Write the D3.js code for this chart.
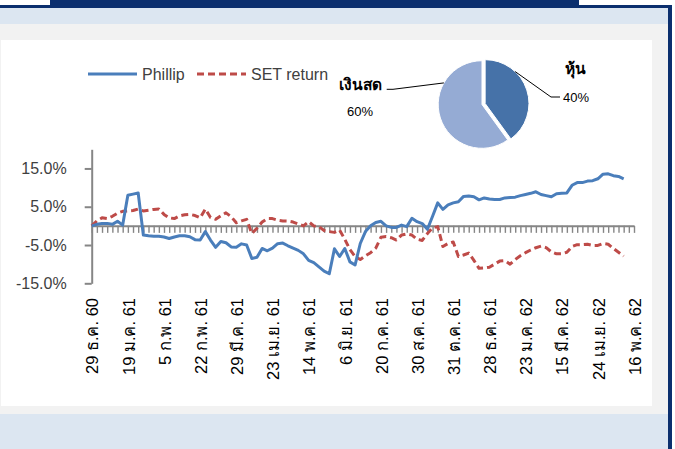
<!DOCTYPE html>
<html>
<head>
<meta charset="utf-8">
<script src="https://cdn.jsdelivr.net/npm/d3@7"></script>
<style>
  body { margin: 0; background: #fff; }
  svg { display: block; font-family: "Liberation Sans", Arial, sans-serif; }
</style>
</head>
<body>
<div id="canvas"></div>
<script>
(function () {
  // number of weekly points on the category axis (last two are empty)
  var nCategories = 106;
  var labelEvery = 7;
  var tickLabels = ['29 ธ.ค. 60', '19 ม.ค. 61', '5 ก.พ. 61', '22 ก.พ. 61', '29 มี.ค. 61',
    '23 เม.ย. 61', '14 พ.ค. 61', '6 มิ.ย. 61', '20 ก.ค. 61', '30 ส.ค. 61', '31 ต.ค. 61',
    '28 ธ.ค. 61', '23 ม.ค. 62', '15 มี.ค. 62', '24 เม.ย. 62', '16 พ.ค. 62'];

  var seriesNames = ['Phillip', 'SET return'];

  // cumulative return in %
  var phillip = [
    0, 0.4, 0.6, 0.65, 0.4, 1.2, 0.2, 8.0, 8.3, 8.6,
    -2.4, -2.6, -2.7, -2.7, -2.9, -3.3, -2.9, -2.6, -2.6, -2.85,
    -3.6, -3.7, -1.5, -3.7, -5.6, -4.1, -4.4, -5.5, -5.6, -4.7,
    -5.0, -8.5, -8.2, -5.9, -6.5, -5.8, -4.65, -4.5, -5.2, -5.8,
    -6.4, -7.3, -9.0, -9.6, -10.7, -11.8, -12.5, -6.0, -8.0, -5.9,
    -9.4, -10.2, -4.6, -1.5, 0.0, 0.9, 1.2, 0.0, -0.4, -0.4,
    0.2, -0.2, 2.0, 1.1, 0.6, -0.9, 2.5, 6.0, 4.3, 5.5,
    6.0, 6.3, 7.7, 7.8, 7.6, 6.8, 7.3, 7.0, 6.9, 6.9,
    7.3, 7.4, 7.5, 7.9, 8.2, 8.5, 8.9, 8.2, 7.9, 7.6,
    8.4, 8.5, 8.6, 10.6, 11.3, 11.3, 11.7, 11.8, 12.3, 13.5,
    13.6, 13.1, 12.9, 12.3
  ];
  var setReturn = [
    0, 1.3, 2.1, 1.9, 2.5, 3.3, 3.8, 3.9, 4.0, 4.4,
    3.9, 4.1, 4.3, 4.4, 3.0, 2.1, 1.9, 2.6, 2.9, 3.0,
    2.7, 2.1, 4.4, 2.2, 1.7, 2.6, 3.4, 2.4, 0.8, 1.3,
    1.7, -2.0, -0.6, 1.0, 1.9, 1.9, 1.5, 1.3, 1.25, 1.0,
    0.5, 0.0, 1.1, 0.0, -0.2, -1.2, -1.5, -1.7, -1.1, -3.5,
    -6.2, -8.0, -8.8, -7.8, -7.0, -5.8, -3.0, -2.8, -3.1, -3.7,
    -2.4, -2.1, -2.4, -3.5, -3.8, -2.0, -0.5, -0.2, -5.4, -4.6,
    -4.2, -8.0, -7.6, -7.1, -9.0, -11.1, -11.0, -10.8, -10.0, -9.2,
    -9.1, -10.0, -8.8, -7.8, -7.0, -6.3, -5.7, -5.3, -5.7, -6.8,
    -7.3, -7.3, -6.9, -5.4, -4.9, -4.9, -4.8, -5.1, -5.1, -4.6,
    -4.8, -5.9, -6.9, -7.9
  ];

  var yTicks = [15, 5, -5, -15];

  // portfolio split
  var pieNames = ['หุ้น', 'เงินสด'];
  var pieValues = [40, 60];

  var width = 675, height = 449;
  var navy = '#0b2f6e';
  var axisGrey = '#868686';
  var blue = '#4a7ebb', red = '#be4b48';
  var pieColors = ['#4672a8', '#95abd4'];

  var svg = d3.select('#canvas').append('svg')
        .attr('width', width)
        .attr('height', height);

  // frame: light blue band, grey sheet, white chart panel, navy borders
  svg.append('rect').attr('x', 0).attr('y', 8).attr('width', 668).attr('height', height - 8)
    .attr('fill', '#dce6f1');
  svg.append('rect').attr('x', 0).attr('y', 24).attr('width', 668).attr('height', 390)
    .attr('fill', '#f2f2f2');
  svg.append('rect').attr('x', 1).attr('y', 40).attr('width', 651).attr('height', 366)
    .attr('fill', '#fff');
  svg.append('rect').attr('x', 50).attr('y', 0).attr('width', 529).attr('height', 6)
    .attr('fill', navy);
  svg.append('rect').attr('x', 0).attr('y', 5).attr('width', 672).attr('height', 3)
    .attr('fill', navy);
  svg.append('rect').attr('x', 668).attr('y', 5).attr('width', 4).attr('height', height - 5)
    .attr('fill', navy);

  var x = d3.scalePoint()
        .domain(d3.range(nCategories))
        .range([91.7, 634]);

  var y = d3.scaleLinear()
        .domain([-15, 20])
        .range([283.3, 149.3]);

  // y axis
  var yAxis = svg.append('g')
        .attr('transform', 'translate(' + x(0) + ',0)')
        .call(d3.axisLeft(y)
          .tickValues(yTicks)
          .tickSize(7)
          .tickSizeOuter(0)
          .tickPadding(18)
          .tickFormat(function (d) { return d.toFixed(1) + '%'; }));
  yAxis.selectAll('path, line').attr('stroke', axisGrey).attr('stroke-width', 2);
  yAxis.selectAll('text')
    .attr('fill', '#404040')
    .style('font-size', '16px')
    .style('font-family', '"Liberation Sans", Arial, sans-serif');

  // x axis at zero with a tick on every category
  var xAxis = svg.append('g')
        .attr('transform', 'translate(0,' + y(0) + ')')
        .call(d3.axisBottom(x)
          .tickSize(7)
          .tickSizeOuter(0)
          .tickFormat(''));
  xAxis.select('path').attr('stroke', axisGrey).attr('stroke-width', 2);
  xAxis.selectAll('line').attr('stroke', axisGrey).attr('stroke-width', 1.4);

  // category labels sit low, under the plot area
  svg.append('g').selectAll('text')
    .data(tickLabels)
    .enter()
    .append('text')
    .attr('transform', function (d, i) {
      return 'translate(' + (x(i * labelEvery) + 1) + ',298) rotate(-90)';
    })
    .attr('text-anchor', 'end')
    .attr('dy', '0.35em')
    .attr('fill', '#000')
    .style('font-size', '16.5px')
    .text(function (d) { return d; });

  var line = d3.line()
        .x(function (d, i) { return x(i); })
        .y(function (d) { return y(d); });

  svg.append('path')
    .datum(setReturn)
    .attr('d', line)
    .attr('fill', 'none')
    .attr('stroke', red)
    .attr('stroke-width', 3)
    .attr('stroke-dasharray', '7,4')
    .attr('stroke-linejoin', 'round');

  svg.append('path')
    .datum(phillip)
    .attr('d', line)
    .attr('fill', 'none')
    .attr('stroke', blue)
    .attr('stroke-width', 3)
    .attr('stroke-linejoin', 'round');

  // legend
  var legend = svg.append('g');
  var legendItems = [
    {x: 88, color: blue, dash: null},
    {x: 197, color: red, dash: '7,4'}
  ];
  legendItems.forEach(function (item, i) {
    legend.append('line')
      .attr('x1', item.x).attr('x2', item.x + 49)
      .attr('y1', 74).attr('y2', 74)
      .attr('stroke', item.color)
      .attr('stroke-width', 3)
      .attr('stroke-dasharray', item.dash);
    legend.append('text')
      .attr('x', item.x + 54)
      .attr('y', 79.5)
      .attr('fill', '#404040')
      .style('font-size', '16px')
      .text(seriesNames[i]);
  });

  // pie of the asset split
  var pieCx = 482, pieCy = 104.5, pieR = 43.8;
  var arcs = d3.pie().sort(null)(pieValues);
  var arc = d3.arc().innerRadius(0).outerRadius(pieR);

  var pie = svg.append('g')
        .attr('transform', 'translate(' + pieCx + ',' + pieCy + ')');

  pie.selectAll('path')
    .data(arcs)
    .enter()
    .append('path')
    .attr('d', arc)
    .attr('fill', function (d, i) { return pieColors[i]; })
    .attr('stroke', '#fff')
    .attr('stroke-width', 1)
    .attr('transform', function (d, i) {
      // pull the stock slice out a little
      if (i !== 0) return null;
      var mid = (d.startAngle + d.endAngle) / 2;
      return 'translate(' + (Math.sin(mid) * 3.3) + ',' + (-Math.cos(mid) * 3.3) + ')';
    });

  function edgePoint (d, i, f) {
    var a = d.startAngle + (d.endAngle - d.startAngle) * f;
    var off = i === 0 ? 3.3 : 0;
    var mid = (d.startAngle + d.endAngle) / 2;
    return [pieCx + Math.sin(a) * pieR + Math.sin(mid) * off,
            pieCy - Math.cos(a) * pieR - Math.cos(mid) * off];
  }

  var p0 = edgePoint(arcs[0], 0, 0.3);
  var p1 = edgePoint(arcs[1], 1, 0.72);
  var leaders = [
    [p0, [551, 97], [560, 97]],
    [p1, [393, 89.3], [386.7, 89.3]]
  ];
  svg.append('g').selectAll('path')
    .data(leaders)
    .enter()
    .append('path')
    .attr('d', d3.line())
    .attr('fill', 'none')
    .attr('stroke', '#000')
    .attr('stroke-width', 1);

  var pieLabels = [
    {x: 565, y: 69, anchor: 'start', text: pieNames[0], bold: true, size: 15.5},
    {x: 563, y: 97, anchor: 'start', text: pieValues[0] + '%', bold: false, size: 13},
    {x: 382, y: 85, anchor: 'end', text: pieNames[1], bold: true, size: 15.5},
    {x: 360, y: 111.7, anchor: 'middle', text: pieValues[1] + '%', bold: false, size: 13}
  ];
  svg.append('g').selectAll('text')
    .data(pieLabels)
    .enter()
    .append('text')
    .attr('x', function (d) { return d.x; })
    .attr('y', function (d) { return d.y; })
    .attr('dy', '0.35em')
    .attr('text-anchor', function (d) { return d.anchor; })
    .attr('fill', '#000')
    .style('font-size', function (d) { return d.size + 'px'; })
    .style('font-weight', function (d) { return d.bold ? 'bold' : 'normal'; })
    .text(function (d) { return d.text; });
})();
</script>
</body>
</html>
